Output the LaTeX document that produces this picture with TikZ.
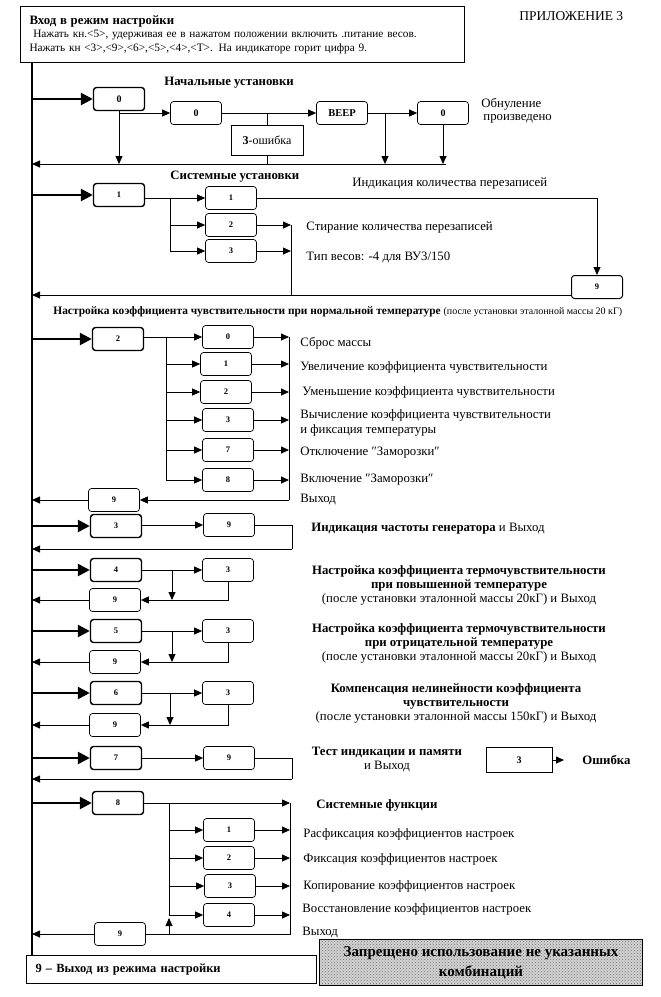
\documentclass[tikz,border=0pt]{standalone}
\usepackage{fontspec}
\setmainfont{Liberation Serif}
\usetikzlibrary{arrows.meta,patterns}

\begin{document}
\begin{tikzpicture}[x=1pt, y=-1pt, line width=0.8pt,
  every node/.style={font=\fontsize{12.8}{14}\selectfont},
  keybox/.style={draw, rounded corners=3pt, line width=1.4pt, minimum width=51pt, minimum height=23pt, inner sep=0pt, font=\fontsize{8.5}{10}\selectfont\bfseries},
  subbox/.style={draw, rounded corners=3pt, line width=0.7pt, minimum width=51pt, minimum height=23pt, inner sep=0pt, font=\fontsize{8.5}{10}\selectfont\bfseries},
  flatbox/.style={draw, line width=0.8pt, inner sep=0pt},
  lbl/.style={anchor=west, inner sep=0pt},
  head/.style={anchor=west, inner sep=0pt, font=\fontsize{12.8}{14}\selectfont\bfseries},
  arr/.style={-{Triangle[length=8pt, width=7pt]}, line width=0.8pt},
  busarr/.style={-{Triangle[length=12pt, width=12pt]}, line width=2.5pt}]
  \useasboundingbox (0,0) rectangle (661,997);
  \coordinate (bus) at (32,0);

  % Entry and exit
  \node[draw, line width=1pt, anchor=north west, minimum width=444pt, minimum height=56pt, text width=426pt, inner xsep=9pt, align=left, font=\fontsize{11.3}{13.5}\selectfont] (entry) at (20,6) {{\fontsize{12.8}{13.5}\selectfont\bfseries Вход в режим настройки}\\ \ Нажать кн.<5>, удерживая ее в нажатом положении включить .питание весов.\\Нажать кн <3>,<9>,<6>,<5>,<4>,<Т>. На индикаторе горит цифра 9.};
  \node[lbl, font=\fontsize{13.5}{15}\selectfont] (annex) at (519,16) {ПРИЛОЖЕНИЕ 3};
  \node[draw, line width=1pt, anchor=north west, minimum width=290pt, minimum height=28pt, text width=272pt, inner xsep=9pt, align=left, font=\fontsize{12.5}{14}\selectfont\bfseries] (exit) at (26,955) {9 – Выход из режима настройки};
  \node[draw, line width=1pt, anchor=north west, minimum width=323pt, minimum height=46pt, align=center, preaction={fill=gray!35}, pattern=crosshatch dots, pattern color=black!55, font=\fontsize{15}{20}\selectfont\bfseries] (forbid) at (319,939) {Запрещено использование не указанных\\комбинаций};
  \draw[line width=2.5pt] (entry.south -| bus) -- (exit.north -| bus);

  % 0 - Initial settings
  \node[head] (h0) at (164,83) {Начальные установки};
  \node[keybox, font=\fontsize{10}{12}\selectfont\bfseries] (s0) at (119,99) {0};
  \node[subbox, font=\fontsize{10}{12}\selectfont\bfseries] (s0a) at (196,113) {0};
  \node[subbox, font=\fontsize{10.5}{12}\selectfont\bfseries] (beep) at (342,113) {BEEP};
  \node[subbox, font=\fontsize{10}{12}\selectfont\bfseries] (s0b) at (443,113) {0};
  \node[flatbox, minimum width=72pt, minimum height=30pt, font=\fontsize{12}{14}\selectfont] (err0) at (267,140) {\textbf{3}-ошибка};
  \node[lbl] (done0) at (481,104) {Обнуление};
  \node[lbl] (done0b) at (483,119) {произведено};
  \coordinate (ret0) at (446,164);
  \coordinate (tap0) at (385,113);
  \draw[busarr] (s0 -| bus) -- (s0.west);
  \draw[arr] (s0.south) -- (s0.south |- ret0);
  \draw[arr] (s0.south |- s0a) -- (s0a.west);
  \draw[arr] (s0a) -- (beep);
  \draw (err0.north |- s0a) -- (err0.north);
  \draw (err0.south) -- (err0.south |- ret0);
  \draw[arr] (beep) -- (s0b);
  \draw[arr] (tap0) -- (tap0 |- ret0);
  \draw[arr] (s0b.south) -- (s0b.south |- ret0);
  \draw[arr] (ret0) -- (ret0 -| bus);

  % 1 - System settings
  \node[head] (h1) at (170,177) {Системные установки};
  \node[keybox] (s1) at (119,195) {1};
  \node[subbox] (s1a) at (231,198) {1};
  \node[subbox] (s1b) at (231,225) {2};
  \node[subbox] (s1c) at (231,251) {3};
  \node[subbox, line width=1pt] (s1x) at (597,287) {9};
  \node[lbl] (t1a) at (352,183) {Индикация количества перезаписей};
  \node[lbl] (t1b) at (306,227) {Стирание количества перезаписей};
  \node[lbl] (t1c) at (306,257) {Тип весов: -4 для ВУ3/150};
  \coordinate (fork1) at (170,198);
  \coordinate (join1) at (291,295);
  \draw[busarr] (s1 -| bus) -- (s1.west);
  \draw[arr] (s1.east |- fork1) -- (s1a.west);
  \draw (fork1) -- (fork1 |- s1c);
  \draw[arr] (fork1 |- s1b) -- (s1b.west);
  \draw[arr] (fork1 |- s1c) -- (s1c.west);
  \draw[arr] (s1a.east) -| (s1x.north);
  \draw[arr] (s1b.east) -- (s1b.east -| join1);
  \draw[arr] (s1c.east) -- (s1c.east -| join1);
  \draw (s1b.east -| join1) -- (join1);
  \draw[arr] (s1x.west |- join1) -- (join1 -| bus);

  % 2 - Sensitivity at normal temperature
  \node[head, font=\fontsize{11.4}{13}\selectfont\bfseries] (h2) at (53,312) {Настройка коэффициента чувствительности при нормальной температуре {\mdseries\fontsize{10}{11}\selectfont (после установки эталонной массы 20 кГ)}};
  \node[keybox] (s2) at (118,339) {2};
  \node[subbox] (s2a) at (228,337) {0};
  \node[subbox] (s2b) at (226,364) {1};
  \node[subbox] (s2c) at (226,392) {2};
  \node[subbox] (s2d) at (228,420) {3};
  \node[subbox] (s2e) at (228,450) {7};
  \node[subbox] (s2f) at (228,480) {8};
  \node[subbox] (s2x) at (114,500) {9};
  \node[lbl] (t2a) at (300,343) {Сброс массы};
  \node[lbl] (t2b) at (300,367) {Увеличение коэффициента чувствительности};
  \node[lbl] (t2c) at (302,392) {Уменьшение коэффициента чувствительности};
  \node[lbl] (t2d) at (300,415) {Вычисление коэффициента чувствительности};
  \node[lbl] (t2e) at (300,430) {и фиксация температуры};
  \node[lbl] (t2f) at (300,453) {Отключение ″Заморозки″};
  \node[lbl] (t2g) at (300,480) {Включение ″Заморозки″};
  \node[lbl] (t2h) at (300,500) {Выход};
  \coordinate (fork2) at (166,337);
  \coordinate (join2) at (289,500);
  \draw[busarr] (s2 -| bus) -- (s2.west);
  \draw[arr] (s2.east |- s2a) -- (s2a.west);
  \draw (fork2) -- (fork2 |- s2f);
  \draw[arr] (fork2 |- s2b) -- (s2b.west);
  \draw[arr] (fork2 |- s2c) -- (s2c.west);
  \draw[arr] (fork2 |- s2d) -- (s2d.west);
  \draw[arr] (fork2 |- s2e) -- (s2e.west);
  \draw[arr] (fork2 |- s2f) -- (s2f.west);
  \draw[arr] (s2a.east) -- (s2a.east -| join2);
  \draw[arr] (s2b.east) -- (s2b.east -| join2);
  \draw[arr] (s2c.east) -- (s2c.east -| join2);
  \draw[arr] (s2d.east) -- (s2d.east -| join2);
  \draw[arr] (s2e.east) -- (s2e.east -| join2);
  \draw[arr] (s2f.east) -- (s2f.east -| join2);
  \draw (s2a.east -| join2) -- (join2);
  \draw[arr] (join2) -- (s2x.east);
  \draw[arr] (s2x.west) -- (s2x -| bus);

  % 3 - Generator frequency
  \node[keybox] (s3) at (116,526) {3};
  \node[subbox] (s3x) at (229,525) {9};
  \node[lbl] (t3) at (311,529) {\textbf{Индикация частоты генератора} и Выход};
  \coordinate (ret3) at (292,549);
  \draw[busarr] (s3 -| bus) -- (s3.west);
  \draw[arr] (s3.east |- s3x) -- (s3x.west);
  \draw (s3x.east) -| (ret3);
  \draw[arr] (ret3) -- (ret3 -| bus);

  % 4 - Thermal sensitivity, high temperature
  \node[keybox] (s4) at (116,570) {4};
  \node[subbox] (s4a) at (228,570) {3};
  \node[subbox] (s4x) at (115,600) {9};
  \node[align=center] (t4) at (459,585) {\textbf{Настройка коэффициента термочувствительности}\\\textbf{при повышенной температуре}\\(после установки эталонной массы 20кГ) и Выход};
  \coordinate (fork4) at (172,570);
  \draw[busarr] (s4 -| bus) -- (s4.west);
  \draw[arr] (s4) -- (s4a);
  \draw[arr] (fork4) -- (fork4 |- s4x);
  \draw[arr] (s4a.south) |- (s4x.east);
  \draw[arr] (s4x.west) -- (s4x -| bus);

  % 5 - Thermal sensitivity, low temperature
  \node[keybox] (s5) at (116,631) {5};
  \node[subbox] (s5a) at (228,631) {3};
  \node[subbox] (s5x) at (115,662) {9};
  \node[align=center] (t5) at (459,643) {\textbf{Настройка коэффициента термочувствительности}\\\textbf{при отрицательной температуре}\\(после установки эталонной массы 20кГ) и Выход};
  \coordinate (fork5) at (172,631);
  \draw[busarr] (s5 -| bus) -- (s5.west);
  \draw[arr] (s5) -- (s5a);
  \draw[arr] (fork5) -- (fork5 |- s5x);
  \draw[arr] (s5a.south) |- (s5x.east);
  \draw[arr] (s5x.west) -- (s5x -| bus);

  % 6 - Nonlinearity compensation
  \node[keybox] (s6) at (116,693) {6};
  \node[subbox] (s6a) at (228,693) {3};
  \node[subbox] (s6x) at (115,725) {9};
  \node[align=center] (t6) at (456,703) {\textbf{Компенсация нелинейности коэффициента}\\\textbf{чувствительности}\\(после установки эталонной массы 150кГ) и Выход};
  \coordinate (fork6) at (170,693);
  \draw[busarr] (s6 -| bus) -- (s6.west);
  \draw[arr] (s6) -- (s6a);
  \draw[arr] (fork6) -- (fork6 |- s6x);
  \draw[arr] (s6a.south) |- (s6x.east);
  \draw[arr] (s6x.west) -- (s6x -| bus);

  % 7 - Display and memory test
  \node[keybox] (s7) at (116,758) {7};
  \node[subbox] (s7x) at (229,758) {9};
  \node[align=center] (t7) at (387,760) {\textbf{Тест индикации и памяти}\\и Выход};
  \node[flatbox, minimum width=66pt, minimum height=25pt, font=\fontsize{10}{12}\selectfont\bfseries] (err7) at (519,760) {3};
  \node[head] (err7l) at (582,760) {Ошибка};
  \coordinate (ret7) at (292,779);
  \draw[busarr] (s7 -| bus) -- (s7.west);
  \draw[arr] (s7) -- (s7x);
  \draw (s7x.east) -| (ret7);
  \draw[arr] (ret7) -- (ret7 -| bus);
  \draw[arr, shorten >=18pt] (err7.east) -- (err7l.west);

  % 8 - System functions
  \node[keybox] (s8) at (118,803) {8};
  \node[subbox] (s8a) at (229,830) {1};
  \node[subbox] (s8b) at (229,858) {2};
  \node[subbox] (s8c) at (230,886) {3};
  \node[subbox] (s8d) at (229,915) {4};
  \node[subbox] (s8x) at (120,934) {9};
  \node[head] (h8) at (316,805) {Системные функции};
  \node[lbl] (t8a) at (303,834) {Расфиксация коэффициентов настроек};
  \node[lbl] (t8b) at (303,859) {Фиксация коэффициентов настроек};
  \node[lbl] (t8c) at (303,886) {Копирование коэффициентов настроек};
  \node[lbl] (t8d) at (302,909) {Восстановление коэффициентов настроек};
  \node[lbl] (t8e) at (302,933) {Выход};
  \coordinate (fork8) at (169,803);
  \coordinate (join8) at (290,934);
  \draw[busarr] (s8 -| bus) -- (s8.west);
  \draw[arr] (s8.east) -- (s8.east -| join8);
  \draw (fork8) -- (fork8 |- s8d);
  \draw[arr] (fork8 |- s8a) -- (s8a.west);
  \draw[arr] (fork8 |- s8b) -- (s8b.west);
  \draw[arr] (fork8 |- s8c) -- (s8c.west);
  \draw[arr] (fork8 |- s8d) -- (s8d.west);
  \draw[arr] (s8a.east) -- (s8a.east -| join8);
  \draw[arr] (s8b.east) -- (s8b.east -| join8);
  \draw[arr] (s8c.east) -- (s8c.east -| join8);
  \draw[arr] (s8d.east) -- (s8d.east -| join8);
  \draw (s8.east -| join8) -- (join8) -- (s8x.east);
  \draw[arr, shorten >=3pt] (fork8 |- join8) -- (fork8 |- s8d);
  \draw[arr] (s8x.west) -- (s8x -| bus);
\end{tikzpicture}
\end{document}
